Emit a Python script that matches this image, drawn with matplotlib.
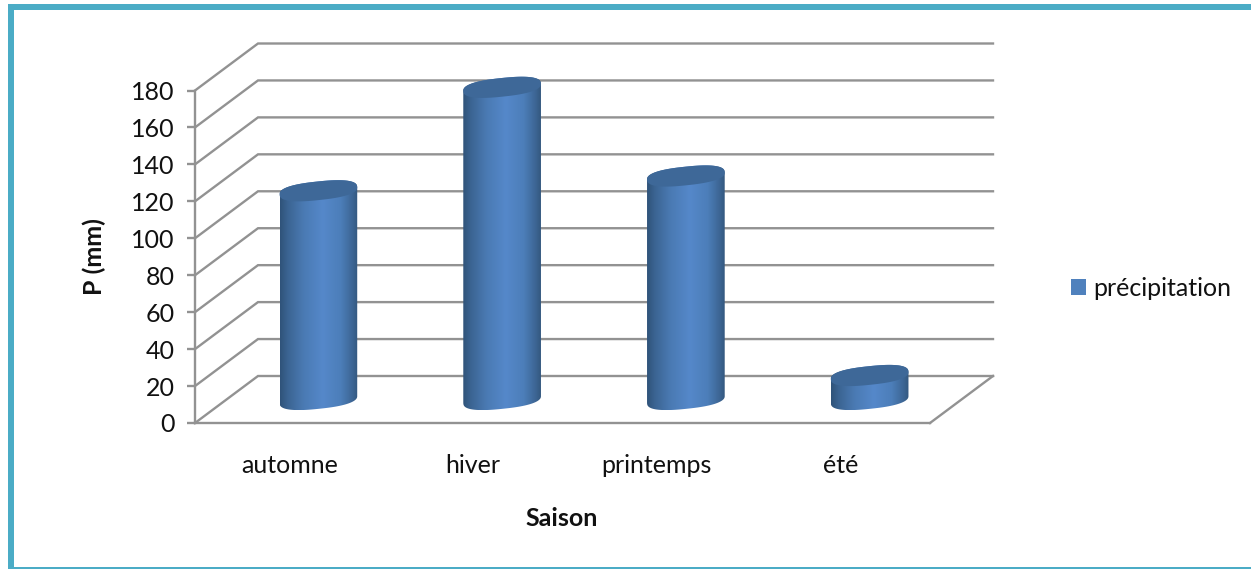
#!/usr/bin/env python3
"""Seasonal precipitation drawn as pseudo-3D cylinders on a walled chart."""

import matplotlib.pyplot as plt
import matplotlib.transforms as mtrans
import numpy as np
from matplotlib.colors import LinearSegmentedColormap
from matplotlib.patches import Patch, Polygon, Rectangle
from matplotlib.path import Path

plt.rcParams['font.family'] = ['Lato', 'DejaVu Sans']

seasons = ['automne', 'hiver', 'printemps', 'été']
precipitation = [113, 169, 121, 13]
y_ticks = list(range(0, 181, 20))
series_name = 'précipitation'

W, H = 1251, 569
GRID = '#929292'
BORDER = '#4bacc6'
TEXT = '#111111'
CAP = '#3e6898'
FONT = 18

# Plot rectangle of the front plane, and the wall offset, in pixels
LEFT, RIGHT, BOTTOM, TOP = 195, 930, 423, 90.5
DEPTH_X, DEPTH_Y = 63, 47

body_cmap = LinearSegmentedColormap.from_list('cyl', [
    (0.0, '#2f5379'), (0.1, '#3b6492'), (0.3, '#4a7ab3'),
    (0.55, '#5588ca'), (0.78, '#4c7eb9'), (0.93, '#3d6695'), (1.0, '#34587f'),
])

fig = plt.figure(figsize=(W / 100, H / 100), dpi=100)
ax = fig.add_axes([LEFT / W, 1 - BOTTOM / H, (RIGHT - LEFT) / W, (BOTTOM - TOP) / H])
ax.set_xlim(0, len(seasons))
ax.set_ylim(0, 180)

# data units per pixel
sx = len(seasons) / (RIGHT - LEFT)
sy = 180 / (BOTTOM - TOP)
dx, dy = DEPTH_X * sx, DEPTH_Y * sy

# Side wall diagonals and back wall lines
for v in y_ticks:
    ax.plot([0, dx, len(seasons) + dx], [v, v + dy, v + dy], color=GRID, lw=1.7,
            clip_on=False, zorder=1, solid_joinstyle='miter')
# Floor's right edge
ax.plot([len(seasons), len(seasons) + dx], [0, dy], color=GRID, lw=1.7, clip_on=False, zorder=1)


def ellipse(cx, cy, a=39, b=9.3, tilt=6, power=2.5):
    """Tilted, slightly squared ellipse in data units, a and b given in pixels."""
    t = np.linspace(0, 2 * np.pi, 400, endpoint=False)
    ex = a * np.sign(np.cos(t)) * np.abs(np.cos(t)) ** (2 / power)
    ey = b * np.sign(np.sin(t)) * np.abs(np.sin(t)) ** (2 / power)
    rot = np.radians(tilt)
    px = ex * np.cos(rot) - ey * np.sin(rot)
    py = ex * np.sin(rot) + ey * np.cos(rot)
    return cx + px * sx, cy + py * sy


def draw_cylinder(center, value):
    cx = center + dx / 2
    base = dy / 2
    top_x, top_y = ellipse(cx, base + value)
    bot_x, bot_y = ellipse(cx, base)
    n = len(top_x)
    i_right, i_left = int(np.argmax(top_x)), int(np.argmin(top_x))

    # Silhouette: upper half of the cap, then lower half of the base
    upper = (i_right + np.arange((i_left - i_right) % n + 1)) % n
    lower = (i_left + np.arange((i_right - i_left) % n + 1)) % n
    xs = np.r_[top_x[upper], bot_x[lower]]
    ys = np.r_[top_y[upper], bot_y[lower]]
    outline = Path(np.column_stack([np.r_[xs, xs[0]], np.r_[ys, ys[0]]]), closed=True)

    grad = np.linspace(0, 1, 256).reshape(1, -1)
    im = ax.imshow(grad, cmap=body_cmap, aspect='auto', zorder=3,
                   extent=[xs.min(), xs.max(), ys.min(), ys.max()])
    im.set_clip_path(outline, ax.transData)
    im.set_clip_box(fig.bbox)  # the tallest cylinder rises past the axes box
    ax.add_patch(Polygon(np.column_stack([top_x, top_y]), closed=True, facecolor=CAP,
                         edgecolor='none', zorder=4, clip_on=False))


for i, value in enumerate(precipitation):
    draw_cylinder(i + 0.5, value)

# imshow resets the limits
ax.set_xlim(0, len(seasons))
ax.set_ylim(0, 180)

for side in ['top', 'right']:
    ax.spines[side].set_visible(False)
for side in ['left', 'bottom']:
    ax.spines[side].set_color(GRID)
    ax.spines[side].set_linewidth(1.7)

ax.set_xticks(np.arange(len(seasons)) + 0.5)
ax.set_xticklabels(seasons)
ax.set_yticks(y_ticks)
ax.tick_params(axis='x', length=0, pad=22, labelsize=FONT, labelcolor=TEXT)
ax.tick_params(axis='y', length=5.8, width=1.7, color=GRID, pad=9, labelsize=FONT, labelcolor=TEXT)

# Category labels sit slightly right of their slots
nudge = mtrans.ScaledTranslation(2.5 / 100, 0, fig.dpi_scale_trans)
for label in ax.get_xticklabels():
    label.set_transform(label.get_transform() + nudge)

fig.text(94 / W, 1 - 257 / H, 'P (mm)', rotation=90, fontsize=FONT, fontweight='bold',
         color=TEXT, ha='center', va='center')
fig.text(562 / W, 1 - 518 / H, 'Saison', fontsize=FONT, fontweight='bold',
         color=TEXT, ha='center', va='center')

handle = Patch(facecolor='#4f81bd', edgecolor='none', label=series_name)
fig.legend(handles=[handle], loc='center left', bbox_to_anchor=(1061 / W, 1 - 288 / H),
           frameon=False, fontsize=FONT, labelcolor=TEXT, handlelength=0.6, handleheight=0.6,
           handletextpad=0.28, borderaxespad=0)

# Teal frame: top, left and bottom edges
for x, y, w, h in [(8, 4, W - 8, 6), (8, 4, 6, H - 4), (8, H - 2, W - 8, 2)]:
    fig.add_artist(Rectangle((x / W, 1 - (y + h) / H), w / W, h / H, facecolor=BORDER,
                             edgecolor='none', transform=fig.transFigure))

fig.savefig('out.png', dpi=100, facecolor='white')
